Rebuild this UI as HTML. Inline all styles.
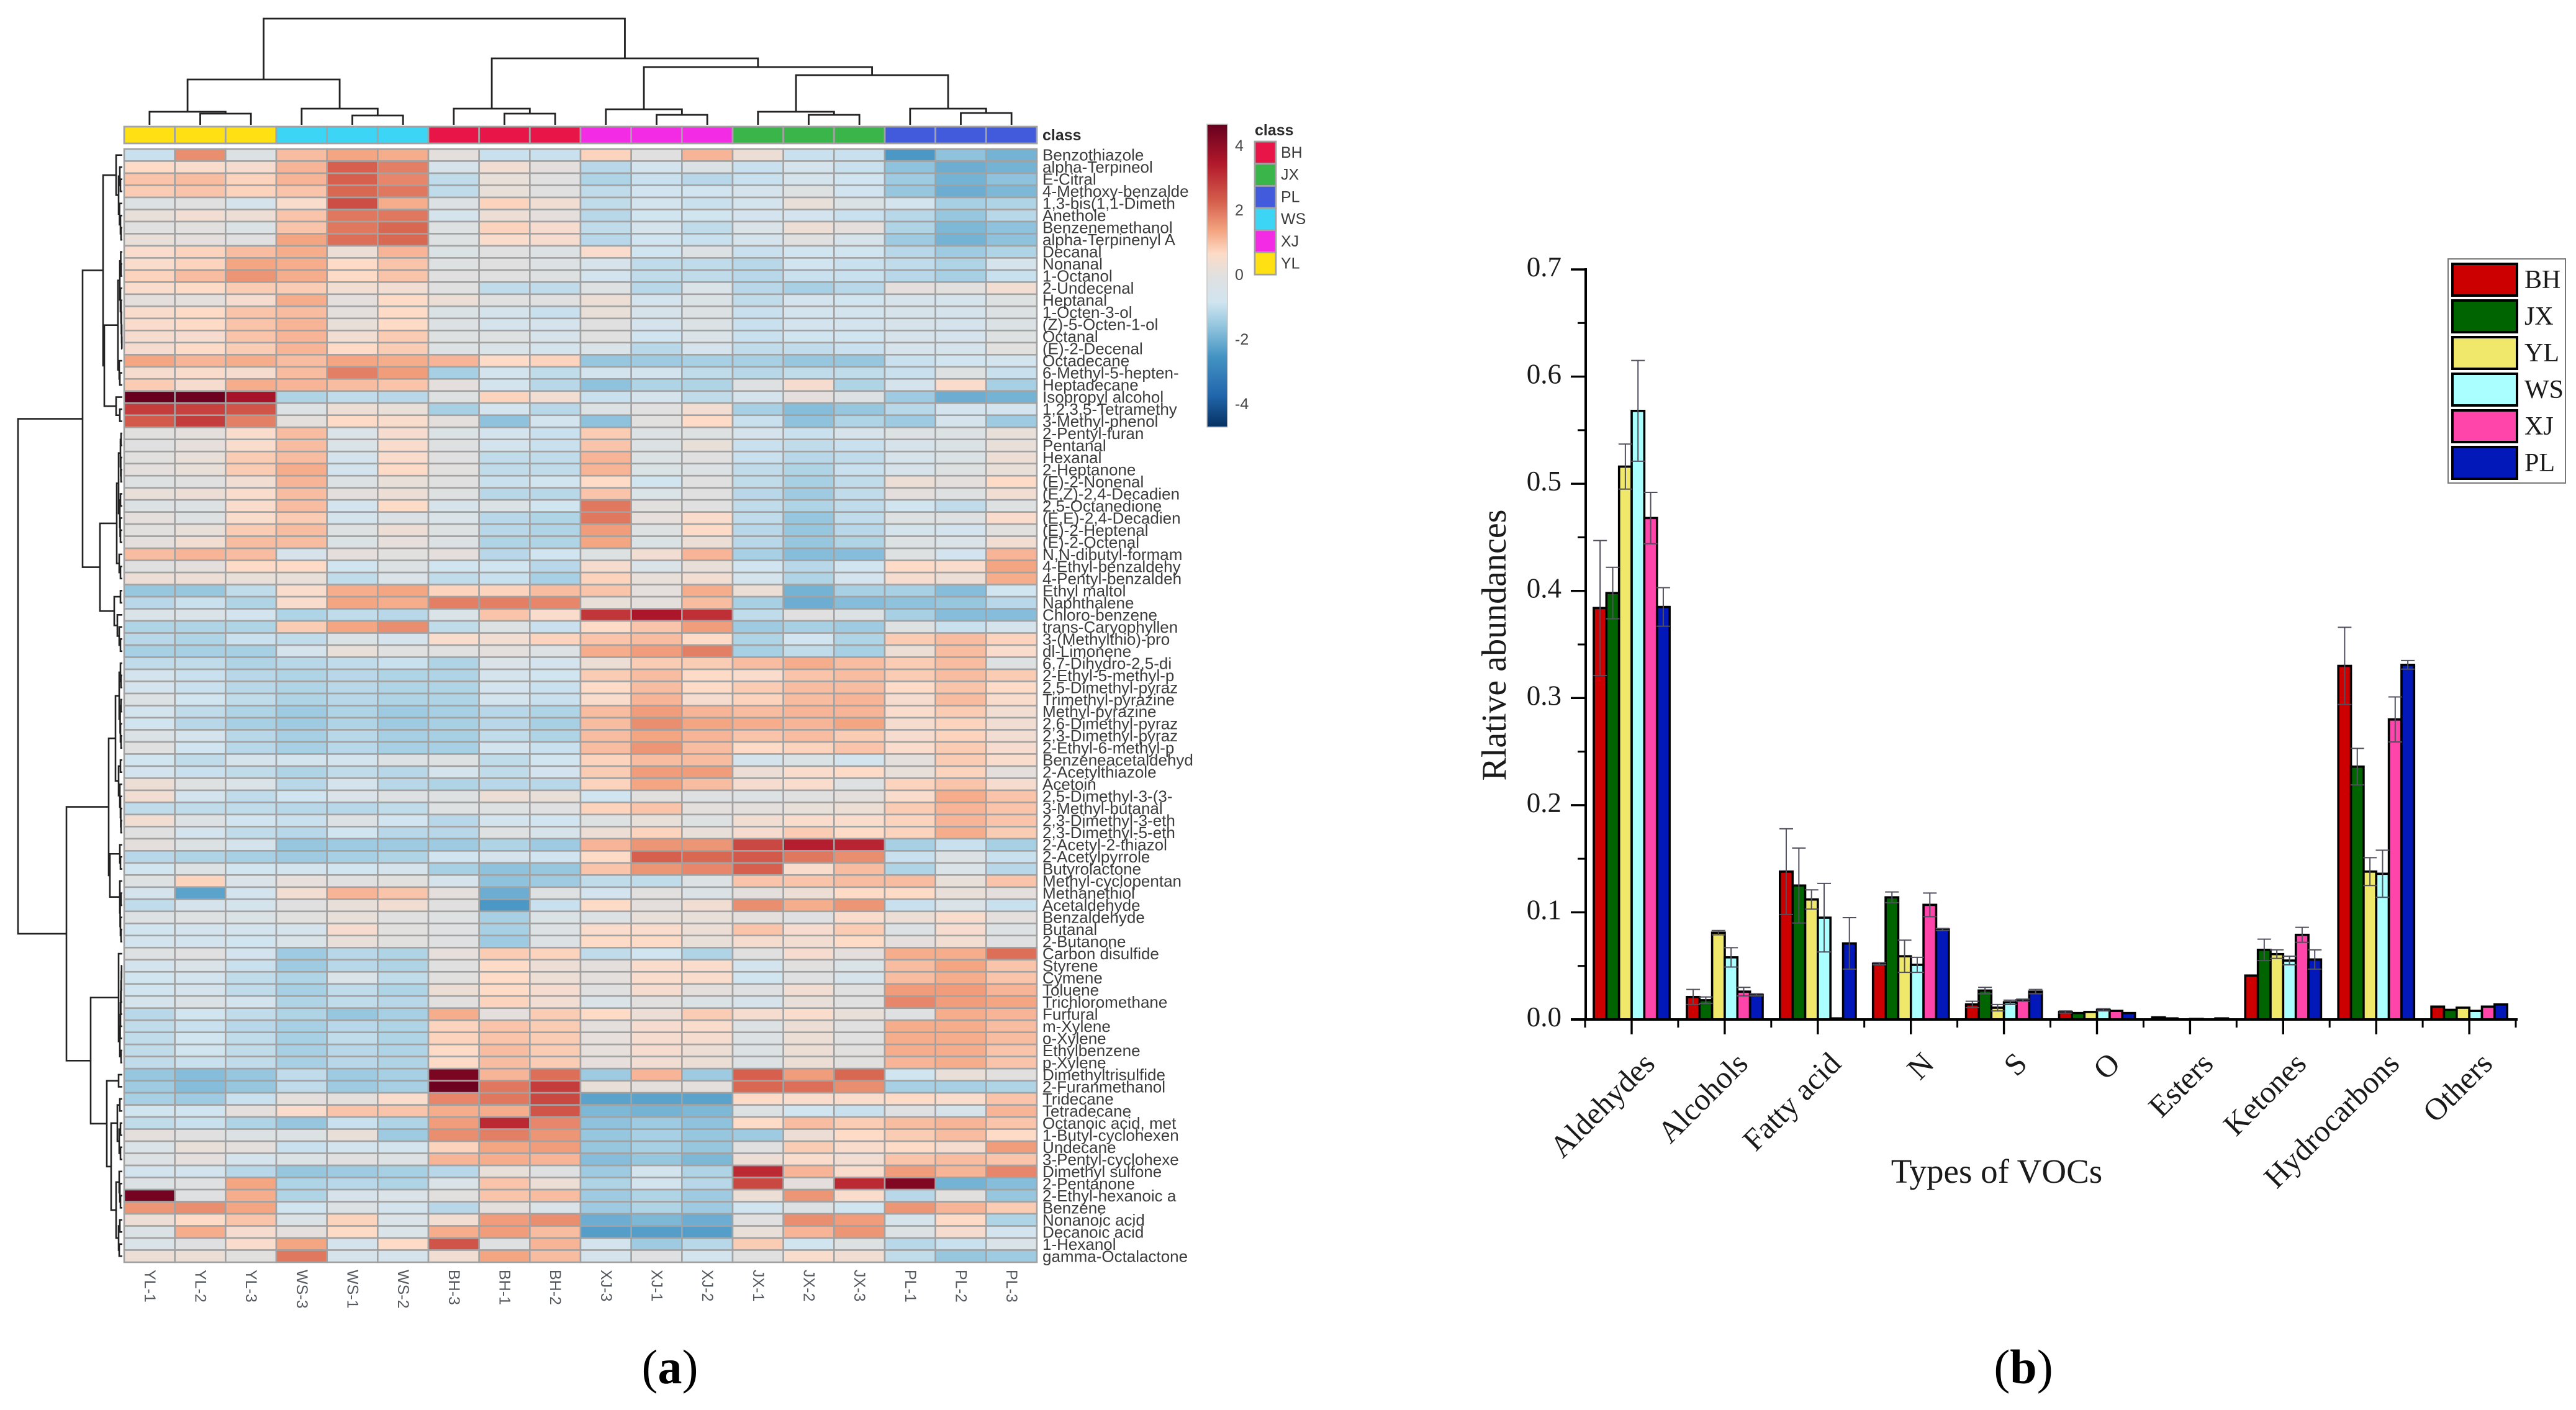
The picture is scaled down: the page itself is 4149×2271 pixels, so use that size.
<!DOCTYPE html>
<html lang="en">
<head>
<meta charset="utf-8">
<title>Heatmap and bar chart of VOCs</title>
<style>
html,body{margin:0;padding:0;background:#fff;}
svg{display:block;}
text{font-family:"Liberation Sans",sans-serif;}
.serif,.serif text{font-family:"Liberation Serif",serif;}
</style>
</head>
<body>
<svg id="figure" xmlns="http://www.w3.org/2000/svg" width="4149" height="2271" viewBox="0 0 4149 2271">
  <rect x="0" y="0" width="4149" height="2271" fill="#ffffff"></rect>
  <defs><linearGradient id="cbGrad" x1="0" y1="0" x2="0" y2="1"></linearGradient></defs>
  <g id="panelA">
    <g id="colDendro"></g>
    <g id="rowDendro"></g>
    <g id="annotation"></g>
    <g id="cells"></g>
    <g id="rowLabelsG"></g>
    <g id="colLabelsG"></g>
    <g id="colorbar"></g>
    <g id="classLegend"></g>
  </g>
  <g id="panelB" class="serif">
    <g id="bars"></g>
    <g id="errors"></g>
    <g id="axes"></g>
    <text x="2407" y="1039" transform="rotate(-90 2407 1039)" text-anchor="middle" dominant-baseline="central" font-size="56" fill="#1a1a1a">Rlative abundances</text>
    <text x="3216" y="1905" text-anchor="middle" font-size="55" fill="#1a1a1a">Types of VOCs</text>
    <g id="barLegend"></g>
  </g>
  <text class="serif" x="1079" y="2228" text-anchor="middle" font-size="78" fill="#000">(<tspan font-weight="bold">a</tspan>)</text>
  <text class="serif" x="3259" y="2228" text-anchor="middle" font-size="78" fill="#000">(<tspan font-weight="bold">b</tspan>)</text>
</svg>
<script>
/* ---------- heatmap data ---------- */
const colLabels = ['YL-1','YL-2','YL-3','WS-3','WS-1','WS-2','BH-3','BH-1','BH-2','XJ-3','XJ-1','XJ-2','JX-1','JX-2','JX-3','PL-1','PL-2','PL-3'];
const classNames = ['BH','JX','PL','WS','XJ','YL'];
const colorbarTicks = [4,2,0,-2,-4];
const rowLabels = ['Benzothiazole','alpha-Terpineol','E-Citral','4-Methoxy-benzalde','1,3-bis(1,1-Dimeth','Anethole','Benzenemethanol','alpha-Terpinenyl A','Decanal','Nonanal','1-Octanol','2-Undecenal','Heptanal','1-Octen-3-ol','(Z)-5-Octen-1-ol','Octanal','(E)-2-Decenal','Octadecane','6-Methyl-5-hepten-','Heptadecane','Isopropyl alcohol','1,2,3,5-Tetramethy','3-Methyl-phenol','2-Pentyl-furan','Pentanal','Hexanal','2-Heptanone','(E)-2-Nonenal','(E,Z)-2,4-Decadien','2,5-Octanedione','(E,E)-2,4-Decadien','(E)-2-Heptenal','(E)-2-Octenal','N,N-dibutyl-formam','4-Ethyl-benzaldehy','4-Pentyl-benzaldeh','Ethyl maltol','Naphthalene','Chloro-benzene','trans-Caryophyllen','3-(Methylthio)-pro','dl-Limonene','6,7-Dihydro-2,5-di','2-Ethyl-5-methyl-p','2,5-Dimethyl-pyraz','Trimethyl-pyrazine','Methyl-pyrazine','2,6-Dimethyl-pyraz','2,3-Dimethyl-pyraz','2-Ethyl-6-methyl-p','Benzeneacetaldehyd','2-Acetylthiazole','Acetoin','2,5-Dimethyl-3-(3-','3-Methyl-butanal','2,3-Dimethyl-3-eth','2,3-Dimethyl-5-eth','2-Acetyl-2-thiazol','2-Acetylpyrrole','Butyrolactone','Methyl-cyclopentan','Methanethiol','Acetaldehyde','Benzaldehyde','Butanal','2-Butanone','Carbon disulfide','Styrene','Cymene','Toluene','Trichloromethane','Furfural','m-Xylene','o-Xylene','Ethylbenzene','p-Xylene','Dimethyltrisulfide','2-Furanmethanol','Tridecane','Tetradecane','Octanoic acid, met','1-Butyl-cyclohexen','Undecane','3-Pentyl-cyclohexe','Dimethyl sulfone','2-Pentanone','2-Ethyl-hexanoic a','Benzene','Nonanoic acid','Decanoic acid','1-Hexanol','gamma-Octalactone'];
const heatValues = [
[-.9,1.7,-.2,1.1,1.4,1.3,.1,-.9,-.9,.8,0,1.2,.3,-.9,-.9,-2.4,-1.6,-1.9],
[.7,.6,.5,1.2,2.3,1.9,-.5,.4,.1,-1.1,-.7,-.3,-.9,-.6,-.9,-1.6,-2,-1.9],
[1,1.1,.8,1.2,2.3,1.8,-1,.2,0,-1.2,-.9,-1.1,-.9,-.6,-.8,-1.4,-1.9,-1.6],
[.9,1,.8,1,2.2,2,-1,.2,0,-1,-.8,-.8,-.6,-.1,-.8,-1.5,-2,-1.8],
[-.2,0,-.6,.6,2.6,1.3,-.2,.8,.4,-1,-.7,-.9,-.7,.2,-.3,-.7,-1.3,-1.2],
[.2,.4,.3,1,2,2,-.6,.3,.1,-1.1,-.8,-.8,-.7,-.7,-.9,-1.1,-1.5,-1.1],
[0,.05,-.3,1,2,2.2,-.1,.8,.5,-1,-.6,-1,-.4,.3,.1,-1.2,-1.8,-1.6],
[.2,.1,0,1.4,2.1,2.2,-.1,.6,.5,-1.1,-.8,-.9,-.6,0,-.5,-1.4,-1.9,-1.6],
[.6,.8,1.1,1.3,.3,1.2,-.3,0,-.2,.6,-.8,-.2,-.9,-.8,-.8,-1.1,-1.4,-1.2],
[.6,.8,1.4,1.3,.7,1,-.1,0,-.2,-.5,-1,-1,-1.1,-.8,-.9,-1,-1.2,-.6],
[.8,1.1,1.6,1.3,.7,1,0,0,-.1,-.7,-1,-1,-1.1,-.9,-.9,-1.1,-1.3,-.9],
[.6,.7,.9,.9,.4,.4,0,-1,-1,-.1,-1.1,-.4,-1.1,-1.3,-1.1,.1,.05,.4],
[.1,.1,.5,1.3,.1,.7,.3,0,0,.3,-.7,-.3,-1,-.7,-.8,-.5,-.6,-.1],
[.6,.7,1,1.1,.1,.7,-.3,-.6,-.9,.2,-.5,-.2,-.9,-.7,-.7,-.5,-.6,-.2],
[.6,.7,1,1.2,.2,.7,-.2,-.6,-.6,0,-.6,-.3,-.9,-.7,-.7,-.5,-.6,-.3],
[.5,.5,1,1.2,.4,.9,-.1,-.1,-.5,0,-.8,-.4,-.9,-.8,-.8,-.5,-.6,-.1],
[.5,.7,.9,1.2,.7,.9,-.2,-.4,-.6,-.4,-1.1,-.6,-1,-1,-.9,-.5,-.6,.05],
[1.4,1.2,1.3,1.1,1.4,1.3,1.2,.7,.8,-1.5,-1.4,-1.3,-1.3,-1.5,-1.5,-.9,-.8,-.7],
[.5,.6,.5,1.1,1.9,1.5,-1.3,-.7,-1,-.7,-.7,-1,-1.1,-1,-1,-.9,-.1,-.9],
[.9,.5,1.3,1.2,1.1,1,.1,-.7,-1.1,-1.6,-1.2,-1.2,-.1,.5,-1.2,-.6,.6,-1.3],
[4.7,4.6,3.7,-1.2,-1,-1.1,-.1,.8,.4,-.9,-.6,-1,-.6,.1,-.2,-1.4,-2,-1.9],
[2.9,2.8,2.5,-.2,.3,.2,-1.3,-.7,-1.1,-.2,0,.4,-1.3,-1.7,-1.5,-1.1,-.7,-.7],
[2.4,2.9,1.9,.1,.7,.6,.1,-1.6,-.7,-1.6,.05,.7,-.9,-1.6,-1.2,-1.4,-.6,-1.4],
[.05,.1,.6,1.1,-.4,.5,-.3,-.7,-.9,.9,-.2,-.1,-.6,-.9,-.5,-.2,-.2,.2],
[0,.15,.6,1.1,-.4,.6,-.1,-.7,-.9,1,-.2,.2,-.9,-1,-.9,-.5,-.3,.2],
[.05,.2,.9,1.1,-.6,.6,0,-1,-1,1.2,-.2,0,-.9,-1.1,-1,-.5,-.3,.3],
[.1,.2,.9,1.3,-.7,.7,.05,-1,-1,1.2,-.3,-.2,-1,-1.2,-.9,-.5,-.1,.2],
[-.1,0,.4,1.2,-.2,.2,0,-.9,-.8,.7,-.8,0,-1,-1.3,-1,.3,.1,.7],
[.2,.3,.6,1.1,.1,.3,-.1,-1.1,-1.1,1,-.4,0,-1.1,-1.4,-1,.1,-.1,.4],
[-.2,-.2,.6,1.1,-.7,.7,-.5,-.3,-.8,2,.05,0,-1,-1.2,-1,-.8,-1,-.1],
[.1,-.1,.6,.9,-.6,-.3,-.4,-1.1,-1.2,2,.15,.6,-1,-1.5,-1,-.1,-.1,.6],
[.05,.2,.9,1.1,-.1,.3,-.1,-1.1,-1.2,1.5,-.1,.7,-1.1,-1.5,-1.1,-.6,-.7,.05],
[.1,.4,1.1,1.1,-.3,.15,-.2,-1.2,-1.2,1.4,-.3,.3,-1.1,-1.5,-1.2,-.2,-.4,.4],
[1.1,1.2,1.1,-.5,.1,.05,.1,-1.1,-.8,-.1,.4,1.2,-1.3,-1.7,-1.7,-.1,-.7,1.2],
[0,.1,.7,.7,-.8,-.2,-.8,-.8,-1.1,.5,-.4,.2,-.8,-1.1,-.8,.7,.6,1.4],
[.3,.3,.2,.2,-1,-.4,-1,-.9,-1.3,.8,.2,.4,-.6,-1.2,-.7,.5,.3,1.3],
[-1.5,-1.5,-1,.6,1.3,1.4,.8,.8,1.1,1,.1,1.3,.3,-1.9,-1.3,-1.3,-1.7,-.8],
[-1.1,-.9,-1.2,.6,1.4,1.3,1.9,1.9,1.8,.2,.1,1.1,-1.3,-2,-1.7,-1.6,-1.5,-1.1],
[-.4,-.4,-.7,-1.2,-1,-1.1,-.4,1,.6,3,3.6,3.1,-1,0,-.2,-1.3,-1.7,-1.7],
[-1.2,-1.2,-1.2,.9,1.4,1.7,-1,-.2,-.9,.7,1,1.5,-1.4,-1.3,-1.4,-.1,-.9,-.6],
[-1.1,-1.2,-.9,-1,-.3,-.6,.6,.4,.8,1,1.1,.7,-1.2,-.8,-1.2,.9,1.1,.8],
[-1.3,-1.3,-1.3,-.6,.2,0,0,.1,-.2,1.3,1.5,1.9,-1.3,-1,-1.3,.3,1.1,.6],
[-1,-1,-1.2,-1.1,-1,-.9,-1.2,-.4,-.7,.3,.9,.9,1.1,1.3,1.1,.9,1.1,-.1],
[-.7,-.9,-1.1,-1.2,-1.1,-1.2,-1.2,-.6,-.8,.9,1.1,.7,.6,1,1.1,.9,1.1,.9],
[-.7,-.9,-1.1,-1.2,-1.1,-1.2,-1.2,-.7,-.9,.7,1.1,.7,.9,1.1,1.1,.7,1,.7],
[-.2,-.8,-1,-1.2,-1.1,-1.2,-1.2,-.7,-.9,.6,1.2,.5,.8,1.1,1.2,.5,1.1,.6],
[-.7,-1,-1.2,-1.4,-1.2,-1.4,-1.3,-1.1,-1.2,1.1,1.5,1.2,1.1,1.2,1.2,.6,.9,.4],
[-.8,-1.1,-1.3,-1.4,-1.2,-1.4,-1.3,-1.1,-1.3,1.1,1.7,1.4,1.3,1.2,1.4,.5,.8,.4],
[-.3,-.6,-1.1,-1.3,-1.1,-1.3,-1.3,-1,-1.2,1.1,1.4,1.2,1,1.1,.9,.5,.8,.4],
[0,-.8,-1.1,-1.3,-1.1,-1.3,-1.3,-.7,-.9,1.1,1.6,1.1,.7,.8,1,.6,.9,.5],
[-.8,-1,-.6,-.7,-.7,-.2,-.1,-1,-.8,.8,1.1,1.1,-.6,-.3,-.7,.1,.9,.6],
[-.7,-.9,-1,-1.2,-1,-1.1,-.6,-1,-.7,.9,1.5,1.5,.3,.6,.7,.2,.8,.1],
[.3,-.1,-.4,-1.1,-.6,-1.1,-1.2,-1.1,-1.1,.8,1.4,1.1,.5,.6,-.1,.8,1,.5],
[.4,-.7,-1,-.8,-.4,-.1,-.1,.3,.2,-.8,.05,-.05,-.2,0,.1,.6,1.3,1],
[-1,-1,-1,-1.1,-1.1,-1,-.1,-.1,-.05,.8,1,.1,.1,.2,.3,.9,1.2,1],
[.4,-.2,-.8,-.9,-.2,-.8,-1.1,-.7,-.8,-.1,.2,-.1,.4,.6,.6,.8,1.2,1],
[0,-.7,-1,-1.1,-.8,-1.1,-1.1,-.1,-.5,.3,.8,.2,.5,.9,.7,.8,1.3,.9],
[.1,-.2,-.6,-1.5,-1.4,-1.4,-1.4,-1.2,-1.4,1.2,1.6,1.6,2.7,3.4,3.3,-1.3,-.9,-1.3],
[-1.1,-1.2,-1.3,-1.4,-1.3,-1.2,-.8,-.6,-.8,.7,2.3,2.2,2.4,2,1.7,-.9,-.2,-.9],
[-.8,-.2,-.8,-.7,-.8,-.6,-1.3,-1.6,-1.5,1,1.6,1.8,2.3,.6,1.1,-1.2,-.4,-1.1],
[-.1,.8,-.4,.15,0,.05,-.6,-1.6,-1.4,-1,-1,-.2,1,1,1.1,1.1,.2,1],
[-.6,-2.2,-.7,.4,1.2,1,.1,-2,-.1,-.7,.05,-.3,.1,.3,.7,.7,.2,.1],
[-1,-.6,-.6,0,.2,.4,0,-2.4,-.9,.7,.1,.4,1.7,1.3,1.6,-.9,-.4,-.9],
[-.2,-.1,-.3,.05,.2,0,-.1,-1.3,-.3,-.2,.2,.2,.1,-.05,.6,.3,.6,.1],
[-.8,-.7,-.7,-.6,.5,.05,-.05,-1.3,-.2,.6,.6,.3,1,.5,.9,-.2,.5,-.2],
[-.7,-.7,-.8,-.4,.2,.05,-.05,-1.4,-.2,.7,.7,.2,.5,.4,.7,.1,.4,-.05],
[-.1,0,-.7,-1.4,-1.1,-1.2,.15,.9,.8,-1,-.8,-1.2,0,.5,.1,1.3,1.3,2.1],
[-.7,-.4,-.9,-1.4,-1.1,-1.2,0,.7,.3,.1,.6,.6,-.7,.05,-.4,1.1,1.4,1],
[-.8,-.7,-1,-1.2,-.4,-1,.05,.7,.3,.1,.6,.6,-.8,-.05,-.5,1.1,1.3,1],
[-.8,-.6,-1,-1.3,-1,-1.2,.3,.7,.5,0,.5,.1,-.05,.4,0,1.5,1.5,1.2],
[-.6,-.3,-.7,-1.2,-1,-1.1,.05,.8,.4,-.4,.05,-.3,-.5,.2,0,1.8,1.5,1.4],
[-1.1,-.8,-1,-1.2,-1.5,-1.3,1.3,.1,.9,.7,.3,.9,.5,.6,.2,-.05,1.3,1.2],
[-1,-.9,-1.1,-1.3,-1.1,-1.2,.8,1,.9,.1,.5,.6,-.2,.3,0,1.3,1.3,1.1],
[-1,-.8,-1,-1.3,-1,-1.2,.8,1,.9,.15,.5,.5,-.2,.3,0,1.3,1.3,1.1],
[-1,-.8,-1,-1.3,-1.1,-1.2,.7,1.1,.9,.15,.5,.3,-.2,.3,.05,1.3,1.3,1],
[-1,-.9,-1,-1.3,-1.1,-1.2,.7,1.1,.9,.15,.4,.3,-.2,.3,.05,1.2,1.3,1],
[-1.5,-1.7,-1.5,-1,-1.4,-1.3,4.4,1.2,2.1,-1.4,1.2,-1.4,2.3,1.5,2.2,-.8,.2,.05],
[-1.4,-1.7,-1.5,-1,-1.4,-1.3,4.6,2,2.9,.2,.1,.1,2.2,2.1,1.7,-1.3,-1.3,-1.2],
[-1.3,-1.4,-.9,.1,.1,.6,1.8,2,2.7,-2.2,-2.2,-2.2,.7,.6,.6,.7,.6,1],
[-.8,-.8,.1,.6,1,1,1.3,1.3,2.5,-1.8,-1.9,-1.8,-.2,-.8,-.9,-.05,-.5,1.2],
[-1,-.9,-1.2,-1.5,-.9,-1.2,1.5,3.2,1.8,-1.6,-1.4,-1.6,.7,1.1,.9,1.1,1.2,1],
[.1,0,-.2,-.2,.2,-1.4,1.7,1.9,1.6,-1.5,-1.3,-1.5,-1.4,.3,.7,.9,1.1,.7],
[-.4,.2,.1,-.9,-.7,-.7,.8,1.4,1.5,-1.5,-1.3,-1.5,0,.9,.6,.7,.5,1.5],
[-.2,.1,-.6,-.3,0,-.2,1.2,1.3,1.2,-1.7,-1.5,-1.8,.3,.6,.4,1,1.1,1],
[-.7,-.7,-1.1,-1.5,-1.4,-1.3,-1.1,.2,-.05,-1.4,-.7,-1.2,3.2,1.2,.6,1.5,1.2,1.8],
[-.2,-.05,1.4,-1.2,-1.1,-1.2,-.4,1,.3,-1.2,-.7,-1.1,2.7,.1,3.2,4.3,-1.9,-1.7],
[4.5,-.05,1.3,-1.2,-.5,-.4,.05,1,1.1,-1.4,-1.2,-1.4,.3,1.6,.6,-1.1,.05,-1.5],
[1.6,1.7,1.4,-.8,-.2,-.7,-1.1,.1,-.4,-1.4,-1.2,-1.4,-.8,-.2,-.8,1.6,1.2,.9],
[.3,.7,1,-.3,.8,-.4,.4,1.5,1.7,-2,-1.8,-2,0,1.7,1.5,-.5,.7,-1.2],
[-.3,1.3,.5,.1,.7,-.4,1.3,1.5,1.1,-2.3,-2.3,-2.3,.2,1.2,1.6,-.2,.5,-.7],
[-.4,-.05,.6,1.4,-.6,.7,2.5,-.05,1.2,-.7,-1.4,-1.1,.9,-.8,-.1,-1.1,-.9,-.4],
[.3,.3,.05,2,-.5,-.6,.4,1.4,1.1,-.6,-.05,-.7,0,.6,.4,-1,-1.5,-1.4]
];
/* dendrograms: [merge height, left child, right child]; a number is a leaf index */
const colTree = [171,[73,[21,0,[18,1,2]],[26,3,[15,4,5]]],[107,[26,6,[18,7,8]],[93,[25,9,[16,10,11]],[80,[21,12,[16,13,14]],[26,15,[19,16,17]]]]]];
const rowTree = [168,
 [64,
  [31,
   [10,0,[6,[4,1,[3,2,3]],[4.5,4,[3,5,[2,6,7]]]]],
   [29,
    [7,[4,[2.5,8,[2,9,10]],[3,11,[2,12,[1.5,13,[1,14,[.8,15,16]]]]]],[5,17,[4,18,19]]],
    [10,20,[4,21,22]]]],
  [36,
   [9,[6,[3,[2,23,24],[2.5,25,[2,26,27]]],[4,[3,28,29],[3.5,30,[3,31,32]]]],[5,33,[3,34,35]]],
   [13,[3,36,37],[8,38,[5,39,[3,40,41]]]]]],
 [90,
  [22,
   [11,[5,[3,42,[2,43,44]],[3.5,[2,45,46],[3,47,[2,48,49]]]],[6,[3,50,51],[4,52,[3,53,[2.5,54,[2,55,56]]]]]],
   [20,[4,57,[3,58,59]],[4,60,[3.5,[2,61,62],[3,63,[2,64,65]]]]]],
  [51,
   [6,66,[4,[3.5,[3,[2.5,[2,[1.5,[1.2,67,68],69],70],71],72],73],[2,74,75]]],
   [25,
    [6,76,77],
    [18,[8,[4,78,79],[5,[3,80,81],[3,82,83]]],[10,[5,84,[4,85,[3,86,87]]],[6,[4,88,89],[5,90,91]]]]]]]];

/* ---------- bar chart data ---------- */
const barCategories = ['Aldehydes','Alcohols','Fatty acid','N','S','O','Esters','Ketones','Hydrocarbons','Others'];
const seriesNames = ['BH','JX','YL','WS','XJ','PL'];
const valuesBH = [.384,.021,.138,.052,.014,.007,.002,.041,.330,.012];
const valuesJX = [.398,.018,.125,.114,.027,.006,.001,.065,.236,.009];
const valuesYL = [.516,.081,.112,.059,.011,.007,0,.061,.138,.011];
const valuesWS = [.568,.058,.095,.051,.016,.009,.0005,.055,.136,.008];
const valuesXJ = [.468,.026,.001,.107,.018,.008,0,.079,.280,.012];
const valuesPL = [.385,.023,.071,.084,.026,.006,.001,.056,.331,.014];
const errorBH = [.063,.007,.040,.001,.003,.001,0,0,.036,0];
const errorJX = [.024,.003,.035,.005,.003,0,0,.010,.017,0];
const errorYL = [.021,.002,.009,.015,.003,0,0,.004,.013,0];
const errorWS = [.047,.009,.032,.007,.002,.001,0,.004,.022,0];
const errorXJ = [.024,.004,0,.011,.001,0,0,.007,.021,0];
const errorPL = [.018,.001,.024,.001,.002,0,0,.009,.004,0];
const yTickValues = [0,.1,.2,.3,.4,.5,.6,.7];
const yTickLabels = ['0.0','0.1','0.2','0.3','0.4','0.5','0.6','0.7'];
const yMinorValues = [.05,.15,.25,.35,.45,.55,.65];

/* ---------- helpers ---------- */
const NS = 'http://www.w3.org/2000/svg';
function mk(parent, tag, attrs, txt) {
  const n = document.createElementNS(NS, tag);
  for (const k in attrs) n.setAttribute(k, attrs[k]);
  if (txt !== undefined) n.textContent = txt;
  parent.appendChild(n);
  return n;
}
const $ = id => document.getElementById(id);

/* heatmap geometry and scales */
const HM_L = 200, HM_T = 240, CW = 1470 / colLabels.length, RH = 1793 / rowLabels.length;
const hmX = c => HM_L + c * CW;
const hmY = r => HM_T + r * RH;
const colCenter = c => hmX(c) + CW / 2;
const rowCenter = r => hmY(r) + RH / 2;
const dendroY = h => 201 - h;
const dendroX = h => 197 - h;
const GRID = '#a2a2a2';
const classColor = {BH:'#e81648',JX:'#3ab54a',PL:'#415bdc',WS:'#3dd5f5',XJ:'#f32be5',YL:'#ffe013'};
const colorStopAt = [-4.7,-3.7,-2.5,-1.55,-.8,0,.7,1.4,2.3,3.5,4.7];
const colorStopHex = ['#053061','#2166ac','#4393c3','#92c5de','#d1e5f0','#e0e0e0','#fddbc7','#f4a582','#d6604d','#b2182b','#67001f'];
function hexRgb(h){return [1,3,5].map(i=>parseInt(h.substr(i,2),16));}
function heatColor(v){
  v = Math.max(colorStopAt[0], Math.min(colorStopAt[colorStopAt.length-1], v));
  for (let i=0;i<colorStopAt.length-1;i++){
    if (v<=colorStopAt[i+1]){
      const t=(v-colorStopAt[i])/(colorStopAt[i+1]-colorStopAt[i]);
      const a=hexRgb(colorStopHex[i]), b=hexRgb(colorStopHex[i+1]);
      return 'rgb('+a.map((x,j)=>Math.round(x+(b[j]-x)*t)).join(',')+')';
    }
  }
  return colorStopHex[colorStopHex.length-1];
}

/* heatmap cells */
heatValues.forEach((row, r) => {
  row.forEach((v, c) => {
    const cell = mk($('cells'), 'rect', {x:hmX(c), y:hmY(r), width:CW, height:RH, fill:heatColor(v), stroke:GRID, 'stroke-width':2.6});
    
    
  });
});

/* annotation bar */
colLabels.forEach((lab, c) => {
  const cell = mk($('annotation'), 'rect', {x:hmX(c), y:204, width:CW, height:27, fill:classColor[lab.split('-')[0]], stroke:GRID, 'stroke-width':2.8});
  
  
});
const annotTitle = mk($('annotation'), 'text', {x:1679, y:218, 'dominant-baseline':'central', 'font-size':25, 'font-weight':'bold', fill:'#2a2a2a'}, 'class');



/* row labels */
rowLabels.forEach((lab, r) => {
  const t = mk($('rowLabelsG'), 'text', {x:1679, y:rowCenter(r), 'dominant-baseline':'central', 'font-size':26, fill:'#3c3c3c'}, lab);
  
  
});

/* column labels */
colLabels.forEach((lab, c) => {
  const x = colCenter(c);
  const t = mk($('colLabelsG'), 'text', {x:x, y:2045, transform:'rotate(90 '+x+' 2045)', 'dominant-baseline':'central', 'font-size':25, fill:'#555a60'}, lab);
  
  
});

/* dendrograms */
function drawCol(node){
  if (typeof node === 'number') return {p:colCenter(node), h:0};
  const a = drawCol(node[1]), b = drawCol(node[2]);
  const path = mk($('colDendro'), 'path', {d:'M'+a.p+' '+dendroY(a.h)+'V'+dendroY(node[0])+'H'+b.p+'V'+dendroY(b.h), fill:'none', stroke:'#222', 'stroke-width':2.8});
  
  
  return {p:(a.p+b.p)/2, h:node[0]};
}
function drawRow(node){
  if (typeof node === 'number') return {p:rowCenter(node), h:0};
  const a = drawRow(node[1]), b = drawRow(node[2]);
  const path = mk($('rowDendro'), 'path', {d:'M'+dendroX(a.h)+' '+a.p+'H'+dendroX(node[0])+'V'+b.p+'H'+dendroX(b.h), fill:'none', stroke:'#222', 'stroke-width':2.6});
  
  
  return {p:(a.p+b.p)/2, h:node[0]};
}
drawCol(colTree);
drawRow(rowTree);

/* colorbar */
const CB_ZERO = 445, CB_UNIT = 52;
const cbY = v => CB_ZERO - v * CB_UNIT;
const CB_MAX = 4.71, CB_MIN = -4.67;
for (let i = colorStopAt.length - 1; i >= 0; i--) {
  const off = Math.max(0, Math.min(1, (CB_MAX - colorStopAt[i]) / (CB_MAX - CB_MIN)));
  const st = mk($('cbGrad'), 'stop', {offset:off, 'stop-color':colorStopHex[i]});
  
  
}
const cbRect = mk($('colorbar'), 'rect', {x:1944, y:cbY(CB_MAX), width:33, height:cbY(CB_MIN)-cbY(CB_MAX), fill:'url(#cbGrad)', stroke:'#c8c8c8', 'stroke-width':1.5});


colorbarTicks.forEach(v => {
  const t = mk($('colorbar'), 'text', {x:1989, y:cbY(v)-2, 'dominant-baseline':'central', 'font-size':25, fill:'#4a4a4a'}, String(v));
  
  
});

/* class legend */
const legTitle = mk($('classLegend'), 'text', {x:2021, y:210, 'dominant-baseline':'central', 'font-size':25, 'font-weight':'bold', fill:'#2a2a2a'}, 'class');


classNames.forEach((name, i) => {
  const y = 228 + i * 35.7;
  const sw = mk($('classLegend'), 'rect', {x:2021, y:y, width:34, height:35.7, fill:classColor[name], stroke:GRID, 'stroke-width':2.8});
  
  
  const t = mk($('classLegend'), 'text', {x:2063, y:y+18, 'dominant-baseline':'central', 'font-size':25, fill:'#3c3c3c'}, name);
  
  
});

/* bar chart scales */
const Y0 = 1642, Y_TOP = 434, Y_MAX = .7, AXIS_X = 2554, AXIS_END = 4055;
const yScale = v => Y0 - v * (Y0 - Y_TOP) / Y_MAX;
const bandCenter = i => 2628 + 149.9 * i;
const BAR_W = 20.35;
const barX = (i, s) => bandCenter(i) - 61 + s * BAR_W;
const seriesValues = [valuesBH, valuesJX, valuesYL, valuesWS, valuesXJ, valuesPL];
const seriesErrors = [errorBH, errorJX, errorYL, errorWS, errorXJ, errorPL];
const seriesColor = ['#cc0000','#006400','#f0e86a','#aaffff','#ff44aa','#0318b8'];

/* bars */
seriesValues.forEach((vals, s) => {
  vals.forEach((v, i) => {
    const bar = mk($('bars'), 'rect', {x:barX(i,s), y:yScale(v), width:BAR_W, height:Y0-yScale(v), fill:seriesColor[s], stroke:'#000', 'stroke-width':3.6});
    
    
  });
});
/* error bars */
seriesErrors.forEach((errs, s) => {
  errs.forEach((e, i) => {
    if (!e) return;
    const cx = barX(i,s) + BAR_W/2, v = seriesValues[s][i], hi = yScale(v+e), lo = yScale(v-e);
    const path = mk($('errors'), 'path', {d:'M'+cx+' '+lo+'V'+hi+'M'+(cx-11)+' '+hi+'H'+(cx+11)+'M'+(cx-11)+' '+lo+'H'+(cx+11), fill:'none', stroke:'#50505e', 'stroke-width':2});
    
    
  });
});

/* axes */
const yAxisLine = mk($('axes'), 'line', {x1:AXIS_X, x2:AXIS_X, y1:yScale(Y_MAX)-2, y2:Y0+2, stroke:'#000', 'stroke-width':4});


const xAxisLine = mk($('axes'), 'line', {x1:2530, x2:AXIS_END, y1:Y0, y2:Y0, stroke:'#000', 'stroke-width':4});


yTickValues.forEach((v, i) => {
  const tick = mk($('axes'), 'line', {x1:2530, x2:AXIS_X, y1:yScale(v), y2:yScale(v), stroke:'#000', 'stroke-width':3.4});
  
  
  const t = mk($('axes'), 'text', {x:2515, y:yScale(v)-4, 'text-anchor':'end', 'dominant-baseline':'central', 'font-size':45, fill:'#1a1a1a'}, yTickLabels[i]);
  
  
});
yMinorValues.forEach(v => {
  const tick = mk($('axes'), 'line', {x1:2541, x2:AXIS_X, y1:yScale(v), y2:yScale(v), stroke:'#000', 'stroke-width':3});
  
  
});
barCategories.forEach((cat, i) => {
  const cx = bandCenter(i);
  const tick = mk($('axes'), 'line', {x1:cx, x2:cx, y1:Y0, y2:1666, stroke:'#000', 'stroke-width':3.4});
  
  
  const ax = cx + 40, ay = 1716;
  const t = mk($('axes'), 'text', {x:ax, y:ay, transform:'rotate(-45 '+ax+' '+ay+')', 'text-anchor':'end', 'font-size':50, fill:'#1a1a1a'}, cat);
  
  
});
barCategories.concat(['']).forEach((cat, i) => {
  const mx = bandCenter(i) - 75;
  const tick = mk($('axes'), 'line', {x1:mx, x2:mx, y1:Y0, y2:1655, stroke:'#000', 'stroke-width':3});
  
  
});

/* bar legend */
const legBox = mk($('barLegend'), 'rect', {x:3943, y:417, width:189, height:361, fill:'#fff', stroke:'#777', 'stroke-width':2});


seriesNames.forEach((name, s) => {
  const y = 425 + s * 59;
  const sw = mk($('barLegend'), 'rect', {x:3950, y:y, width:104, height:51, fill:seriesColor[s], stroke:'#000', 'stroke-width':4});
  
  
  const t = mk($('barLegend'), 'text', {x:4066, y:y+26, 'dominant-baseline':'central', 'font-size':42, fill:'#1a1a1a'}, name);
  
  
});
</script>
</body>
</html>
